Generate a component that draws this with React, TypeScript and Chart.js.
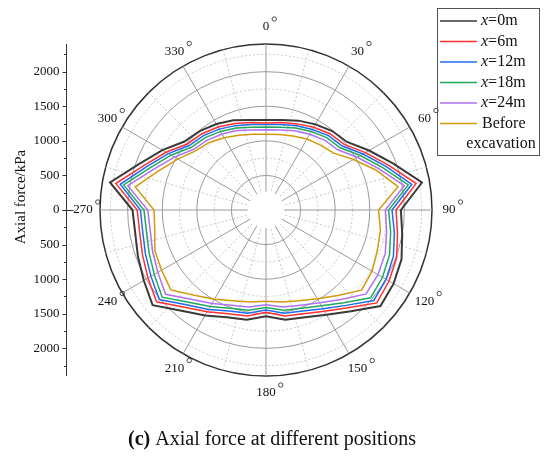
import React, { useEffect, useRef } from "react";
import { Chart, registerables } from "chart.js";

Chart.register(...registerables);

// Angles (degrees, clockwise from top) at which values are given
const angles = [0, 10, 20, 30, 40, 50, 60, 70, 80, 90, 100, 110, 120, 130, 140, 150, 160, 170,
  180, 190, 200, 210, 220, 230, 240, 250, 260, 270, 280, 290, 300, 310, 320, 330, 340, 350];

const x0m = [1300, 1320, 1375, 1430, 1490, 1530, 1720, 1960, 2290, 1950, 2000, 2085, 2130, 2160, 1910, 1750, 1650, 1610,
  1535, 1610, 1650, 1760, 1900, 2140, 2040, 1970, 1920, 1930, 2290, 1950, 1730, 1540, 1490, 1435, 1380, 1320];
const x6m = [1258, 1285, 1325, 1380, 1440, 1475, 1660, 1890, 2205, 1880, 1930, 2010, 2055, 2090, 1845, 1690, 1595, 1555,
  1478, 1555, 1595, 1700, 1835, 2065, 1970, 1900, 1855, 1862, 2205, 1880, 1670, 1485, 1440, 1385, 1330, 1285];
const x12m = [1235, 1255, 1295, 1345, 1405, 1440, 1620, 1845, 2140, 1822, 1885, 1960, 2005, 2035, 1800, 1650, 1555, 1515,
  1446, 1515, 1555, 1660, 1790, 2015, 1920, 1855, 1810, 1815, 2140, 1835, 1630, 1450, 1405, 1350, 1298, 1255];
const x18m = [1200, 1215, 1260, 1310, 1365, 1400, 1575, 1795, 2088, 1773, 1830, 1900, 1945, 1975, 1750, 1600, 1510, 1470,
  1408, 1470, 1510, 1610, 1740, 1960, 1865, 1800, 1755, 1765, 2090, 1785, 1585, 1410, 1365, 1312, 1262, 1215];
const x24m = [1162, 1175, 1220, 1265, 1320, 1355, 1525, 1740, 2030, 1725, 1770, 1835, 1870, 1888, 1690, 1550, 1465, 1425,
  1369, 1425, 1465, 1560, 1685, 1895, 1805, 1745, 1700, 1710, 2030, 1725, 1530, 1365, 1320, 1268, 1222, 1175];
const beforeExc = [1095, 1110, 1140, 1185, 1225, 1280, 1460, 1690, 1938, 1628, 1680, 1713, 1770, 1804, 1615, 1480, 1395, 1350,
  1321, 1350, 1395, 1490, 1610, 1797, 1743, 1710, 1633, 1619, 1920, 1653, 1473, 1330, 1275, 1205, 1150, 1112];

const seriesNames = ["x=0m", "x=6m", "x=12m", "x=18m", "x=24m", "Before excavation"];
const seriesColors = ["#3a3a3a", "#ff3030", "#1f6cf0", "#22a85c", "#b070f0", "#d39a0c"];
const seriesData = [x0m, x6m, x12m, x18m, x24m, beforeExc];

const degreeLabels = [0, 30, 60, 90, 120, 150, 180, 210, 240, 270, 300, 330];
const axisTickLabels = ["2000", "1500", "1000", "500", "0", "500", "1000", "1500", "2000"];

const SERIF = "'Liberation Serif', 'Times New Roman', serif";

export default function App() {
  const ref = useRef<HTMLCanvasElement | null>(null);

  useEffect(() => {
    if (!ref.current) return;
    const step = 5;
    const labels: string[] = [];
    for (let a = 0; a < 360; a += step) labels.push(String(a));

    const datasets = seriesData.map((arr, si) => ({
      label: seriesNames[si],
      data: labels.map((l) => {
        const k = angles.indexOf(Number(l));
        return k >= 0 ? arr[k] : null;
      }),
      borderColor: seriesColors[si],
      backgroundColor: "transparent",
      borderWidth: si === 0 ? 2 : 1.5,
      pointRadius: 0,
      pointHoverRadius: 0,
      fill: false,
      spanGaps: true,
      tension: 0,
    }));

    const decor = {
      id: "decor",
      beforeDatasetsDraw(chart: any) {
        const s = chart.scales.r;
        const ctx = chart.ctx;
        ctx.save();
        ctx.fillStyle = "#ffffff";
        ctx.beginPath();
        ctx.arc(s.xCenter, s.yCenter, s.getDistanceFromCenterForValue(250) + 1, 0, Math.PI * 2);
        ctx.fill();
        ctx.restore();
      },
      afterDraw(chart: any) {
        const s = chart.scales.r;
        const ctx = chart.ctx;
        const xc = s.xCenter;
        const yc = s.yCenter;
        const R = s.getDistanceFromCenterForValue(2400);
        ctx.save();

        // Left vertical axis
        const ax = 66.5;
        ctx.strokeStyle = "#333";
        ctx.lineWidth = 1;
        ctx.beginPath();
        ctx.moveTo(ax, yc - R);
        ctx.lineTo(ax, yc + R);
        ctx.stroke();
        for (let v = 0; v <= 2250; v += 250) {
          const d = s.getDistanceFromCenterForValue(v);
          const len = v % 500 === 0 ? 4 : 2.5;
          for (const sg of [-1, 1]) {
            const y = Math.round(yc + sg * d) + 0.5;
            ctx.beginPath();
            ctx.moveTo(ax - len, y);
            ctx.lineTo(ax, y);
            ctx.stroke();
          }
        }
        // zero tick extends to the right as well
        ctx.beginPath();
        ctx.moveTo(ax, Math.round(yc) + 0.5);
        ctx.lineTo(ax + 7, Math.round(yc) + 0.5);
        ctx.stroke();

        ctx.fillStyle = "#111";
        ctx.font = `13px ${SERIF}`;
        ctx.textAlign = "right";
        ctx.textBaseline = "middle";
        axisTickLabels.forEach((t, i) => {
          const signed = 2000 - 500 * i;
          const d = s.getDistanceFromCenterForValue(Math.abs(signed));
          const y = signed >= 0 ? yc - d : yc + d;
          ctx.fillText(t, ax - 7, y);
        });
        // axis title
        ctx.save();
        ctx.translate(21, 197);
        ctx.rotate(-Math.PI / 2);
        ctx.textAlign = "center";
        ctx.textBaseline = "middle";
        ctx.font = `15px ${SERIF}`;
        ctx.fillText("Axial force/kPa", 0, 0);
        ctx.restore();

        // Degree labels
        ctx.font = `13px ${SERIF}`;
        ctx.textAlign = "center";
        ctx.textBaseline = "middle";
        ctx.fillStyle = "#111";
        ctx.strokeStyle = "#222";
        ctx.lineWidth = 0.8;
        degreeLabels.forEach((a) => {
          const p = s.getPointPosition(a / 5, 183);
          const txt = String(a);
          ctx.fillText(txt, p.x, p.y);
          const w = ctx.measureText(txt).width;
          ctx.beginPath();
          ctx.arc(p.x + w / 2 + 5, p.y - 8, 2.2, 0, Math.PI * 2);
          ctx.stroke();
        });

        // Legend
        ctx.strokeStyle = "#555";
        ctx.lineWidth = 1;
        ctx.strokeRect(437.5, 8.5, 102, 147);
        ctx.textAlign = "left";
        ctx.textBaseline = "middle";
        seriesNames.forEach((name, i) => {
          const y = 21 + 20.5 * i;
          ctx.strokeStyle = seriesColors[i];
          ctx.lineWidth = 1.5;
          ctx.beginPath();
          ctx.moveTo(440, y);
          ctx.lineTo(477, y);
          ctx.stroke();
          ctx.fillStyle = "#111";
          if (name.startsWith("x=")) {
            ctx.font = `italic 16px ${SERIF}`;
            ctx.fillText("x", 481, y);
            const w = ctx.measureText("x").width;
            ctx.font = `16px ${SERIF}`;
            ctx.fillText(name.slice(1), 481 + w, y);
          } else {
            const parts = name.split(" ");
            ctx.font = `16px ${SERIF}`;
            ctx.fillText(parts[0], 482, y);
            ctx.textAlign = "center";
            ctx.fillText(parts[1], 501, y + 20.5);
            ctx.textAlign = "left";
          }
        });

        // Caption
        ctx.fillStyle = "#111";
        ctx.textBaseline = "middle";
        ctx.font = `bold 20px ${SERIF}`;
        const c1 = "(c)";
        const w1 = ctx.measureText(c1).width;
        ctx.font = `20px ${SERIF}`;
        const c2 = " Axial force at different positions";
        const w2 = ctx.measureText(c2).width;
        const x0 = 272 - (w1 + w2) / 2;
        ctx.font = `bold 20px ${SERIF}`;
        ctx.textAlign = "left";
        ctx.fillText(c1, x0, 440);
        ctx.font = `20px ${SERIF}`;
        ctx.fillText(c2, x0 + w1, 440);

        ctx.restore();
      },
    };

    const chart = new Chart(ref.current, {
      type: "radar",
      data: { labels, datasets },
      options: {
        responsive: true,
        maintainAspectRatio: false,
        animation: false,
        layout: { padding: { left: 99, right: 117, top: 44, bottom: 89 } },
        plugins: { legend: { display: false }, tooltip: { enabled: false } },
        elements: { line: { tension: 0 } },
        scales: {
          r: {
            min: 0,
            max: 2400,
            startAngle: 0,
            ticks: { display: false, stepSize: 250 },
            pointLabels: { display: false },
            grid: {
              circular: true,
              color: (c: any) => {
                const v = c.tick ? c.tick.value : 0;
                if (v >= 2400) return "#333";
                return v % 500 === 0 ? "#9a9a9a" : "#c8c8c8";
              },
              lineWidth: (c: any) => {
                const v = c.tick ? c.tick.value : 0;
                return v >= 2400 ? 1.5 : 1;
              },
            },
            border: {
              dash: (c: any) => {
                const v = c.tick ? c.tick.value : 0;
                if (v >= 2400) return [];
                return v % 500 === 0 ? [] : [2, 2];
              },
            },
            angleLines: {
              color: (c: any) => {
                const i = c.index;
                if (i % 6 === 0) return "#9a9a9a";
                if (i % 3 === 0) return "#c8c8c8";
                return "rgba(0,0,0,0)";
              },
              lineWidth: (c: any) => (c.index % 3 === 0 ? 1 : 0),
              borderDash: (c: any) => (c.index % 6 === 0 ? [] : [2, 2]),
            },
          },
        },
      },
      plugins: [decor],
    } as any);

    return () => chart.destroy();
  }, []);

  return (
    <div style={{ position: "absolute", left: 0, top: 0, width: 550, height: 466, background: "#fff" }}>
      <canvas ref={ref} />
    </div>
  );
}
